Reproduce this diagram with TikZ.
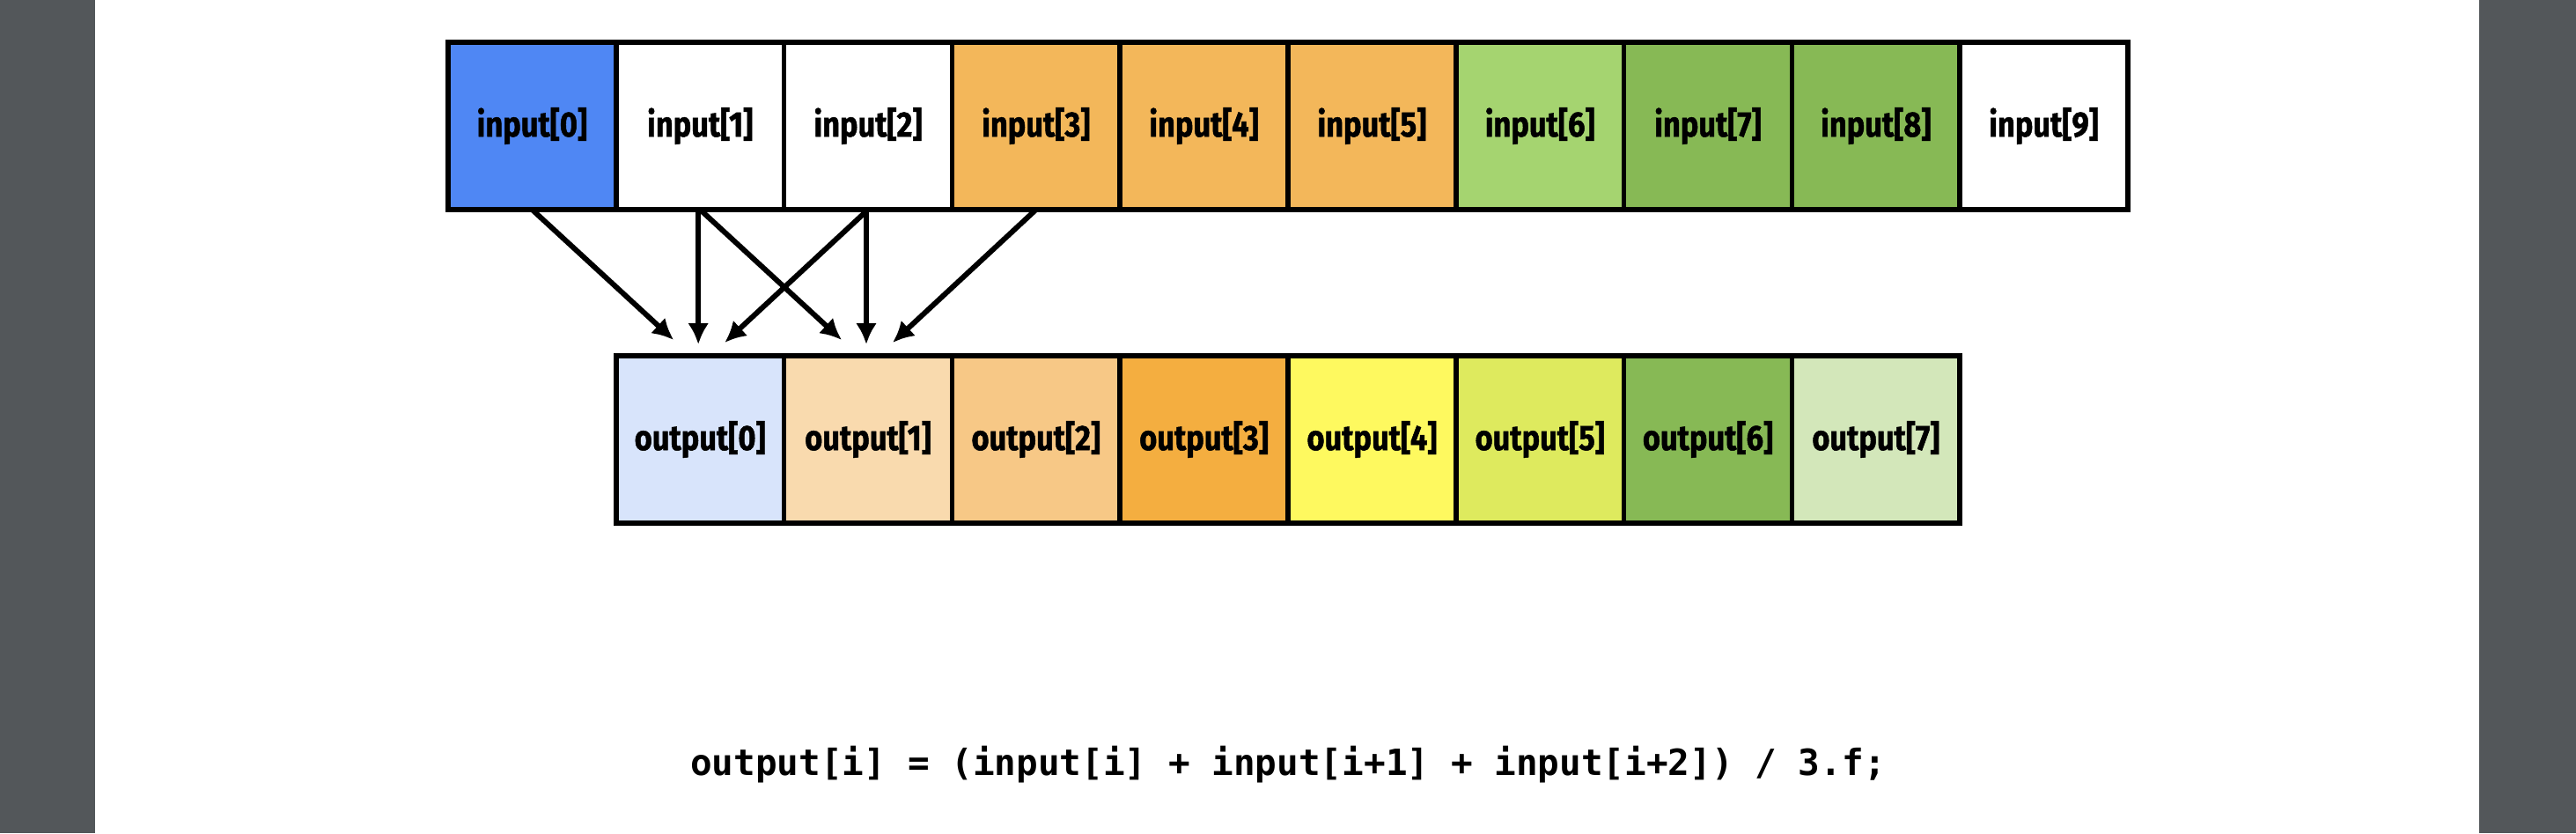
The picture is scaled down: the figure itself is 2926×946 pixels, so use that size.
\documentclass[tikz,border=0pt]{standalone}
\usepackage{fontspec}
\usetikzlibrary{arrows.meta,calc}
\newfontfamily\labfont{Fira Sans}[FakeStretch=0.86,BoldFeatures={FakeBold=1.2}]
\newfontfamily\codefont{DejaVu Sans Mono}
\definecolor{bandgray}{HTML}{53575A}
\definecolor{inblue}{HTML}{4F87F4}
\definecolor{inorange}{HTML}{F3B75A}
\definecolor{inlgreen}{HTML}{A5D470}
\definecolor{ingreen}{HTML}{87B955}
\definecolor{outa}{HTML}{D8E4FB}
\definecolor{outb}{HTML}{F9DAAE}
\definecolor{outc}{HTML}{F7C886}
\definecolor{outd}{HTML}{F4AE40}
\definecolor{oute}{HTML}{FEF95F}
\definecolor{outf}{HTML}{DEEA5E}
\definecolor{outg}{HTML}{87B955}
\definecolor{outh}{HTML}{D3E7BA}
\tikzset{
  cell/.style={draw=black, line width=5.5pt, minimum width=190.8pt, minimum height=190pt,
    inner sep=0pt, outer sep=0pt, anchor=west,
    font=\labfont\bfseries\fontsize{40}{46}\selectfont},
  flow/.style={line width=6pt, -{Latex[length=24pt,width=24pt]}},
  band/.style={fill=bandgray, draw=none}
}
\begin{document}
\begin{tikzpicture}[x=1pt,y=-1pt]
\useasboundingbox (0,0) rectangle (2926,946);
\fill[white] (0,0) rectangle (2926,946);
\fill[band] (0,0) rectangle (108,946);
\fill[band] (2816,0) rectangle (2926,946);
% input row
\foreach \i/\c in {0/inblue,1/white,2/white,3/inorange,4/inorange,5/inorange,6/inlgreen,7/ingreen,8/ingreen,9/white}{
  \node[cell, fill=\c] (in\i) at (509+\i*190.8,143) {input[\i]};
}
% output row
\foreach \i/\c in {0/outa,1/outb,2/outc,3/outd,4/oute,5/outf,6/outg,7/outh}{
  \node[cell, fill=\c] (out\i) at (699.8+\i*190.8,499) {output[\i]};
}
% arrow end points
\coordinate (t0l) at ($(out0.north)+(-30,-18)$);
\coordinate (t0m) at ($(out0.north)+(-2,-13)$);
\coordinate (t0r) at ($(out0.north)+(28,-15)$);
\coordinate (t1l) at ($(out1.north)+(-30,-18)$);
\coordinate (t1m) at ($(out1.north)+(-2,-13)$);
\coordinate (t1r) at ($(out1.north)+(28,-15)$);
\draw[flow] (in0.south) -- (t0l);
\draw[flow] ($(in1.south)+(-2,0)$) -- (t0m);
\draw[flow] (in2.south) -- (t0r);
\draw[flow] (in1.south) -- (t1l);
\draw[flow] ($(in2.south)+(-2,0)$) -- (t1m);
\draw[flow] (in3.south) -- (t1r);
\node[font=\codefont\bfseries\fontsize{41}{48}\selectfont, inner sep=0pt] (formula) at (1463,868) {output[i] = (input[i] + input[i+1] + input[i+2]) / 3.f;};
\end{tikzpicture}
\end{document}
